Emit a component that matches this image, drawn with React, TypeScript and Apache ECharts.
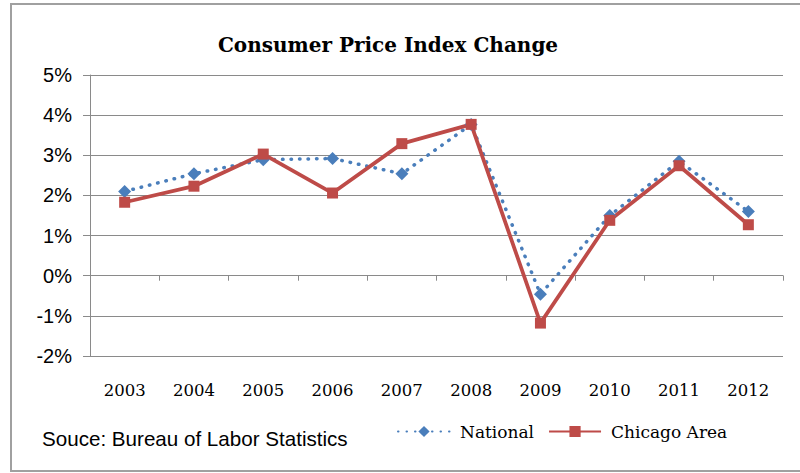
import React, { useEffect, useRef } from "react";
import * as echarts from "echarts";

const years = ["2003", "2004", "2005", "2006", "2007", "2008", "2009", "2010", "2011", "2012"];
const national = [2.1, 2.54, 2.89, 2.92, 2.54, 3.77, -0.46, 1.5, 2.85, 1.6];
const chicago = [1.83, 2.23, 3.03, 2.06, 3.29, 3.77, -1.18, 1.38, 2.74, 1.27];
const titleText = "Consumer Price Index Change";
const sourceText = "Souce: Bureau of Labor Statistics";

const BLUE = "#4A7EBB";
const RED = "#BE4B48";
const GRID = "#8a8a8a";

export default function App() {
  const ref = useRef<HTMLDivElement>(null);
  useEffect(() => {
    if (!ref.current) return;
    const chart = echarts.init(ref.current, null, { renderer: "svg" });
    chart.setOption({
      animation: false,
      backgroundColor: "#ffffff",
      grid: {
        left: 90,
        right: 17,
        top: 75,
        bottom: 117,
        containLabel: false,
        outerBoundsMode: "none",
      },
      xAxis: {
        type: "category",
        data: years,
        boundaryGap: true,
        axisLine: { show: true, onZero: true, lineStyle: { color: GRID, width: 1 } },
        axisTick: { show: true, length: 5, lineStyle: { color: GRID, width: 1 } },
        axisLabel: {
          margin: 26,
          fontFamily: "DejaVu Serif",
          fontSize: 16.5,
          color: "#000",
        },
      },
      yAxis: {
        type: "value",
        min: -2,
        max: 5,
        interval: 1,
        axisLine: { show: true, lineStyle: { color: GRID, width: 1 } },
        axisTick: { show: true, length: 7, lineStyle: { color: GRID, width: 1 } },
        splitLine: { show: true, lineStyle: { color: GRID, width: 1 } },
        axisLabel: {
          formatter: "{value}%",
          margin: 18,
          fontFamily: "Liberation Sans",
          fontSize: 20,
          color: "#000",
        },
      },
      legend: {
        left: 392,
        top: 418,
        itemWidth: 52,
        itemHeight: 14,
        itemGap: 14,
        data: ["National", "Chicago Area"],
        textStyle: {
          fontFamily: "DejaVu Serif",
          fontSize: 17,
          color: "#000",
          padding: [0, 0, 0, 5],
        },
      },
      series: [
        {
          name: "National",
          type: "line",
          data: national,
          symbol: "diamond",
          symbolSize: 13,
          lineStyle: { color: BLUE, width: 3.5, type: [0.5, 8], cap: "round" },
          itemStyle: { color: BLUE, borderWidth: 0 },
        },
        {
          name: "Chicago Area",
          type: "line",
          data: chicago,
          symbol: "rect",
          symbolSize: 11,
          lineStyle: { color: RED, width: 3.75 },
          itemStyle: { color: RED, borderWidth: 0 },
        },
      ],
      graphic: [
        {
          type: "rect",
          shape: { x: 11, y: 4, width: 800, height: 467 },
          style: { fill: "none", stroke: "#a0a0a0", lineWidth: 2 },
          silent: true,
        },
        {
          type: "text",
          x: 388,
          y: 45,
          style: {
            text: titleText,
            align: "center",
            verticalAlign: "middle",
            fontFamily: "DejaVu Serif",
            fontWeight: "bold",
            fontSize: 20,
            fill: "#000",
          },
        },
        {
          type: "text",
          x: 42,
          y: 438,
          style: {
            text: sourceText,
            align: "left",
            verticalAlign: "middle",
            fontFamily: "Liberation Sans",
            fontSize: 20.6,
            fill: "#000",
          },
        },
      ],
    });
    return () => chart.dispose();
  }, []);
  return (
    <div
      ref={ref}
      style={{ position: "absolute", left: 0, top: 0, width: 800, height: 473 }}
    />
  );
}
